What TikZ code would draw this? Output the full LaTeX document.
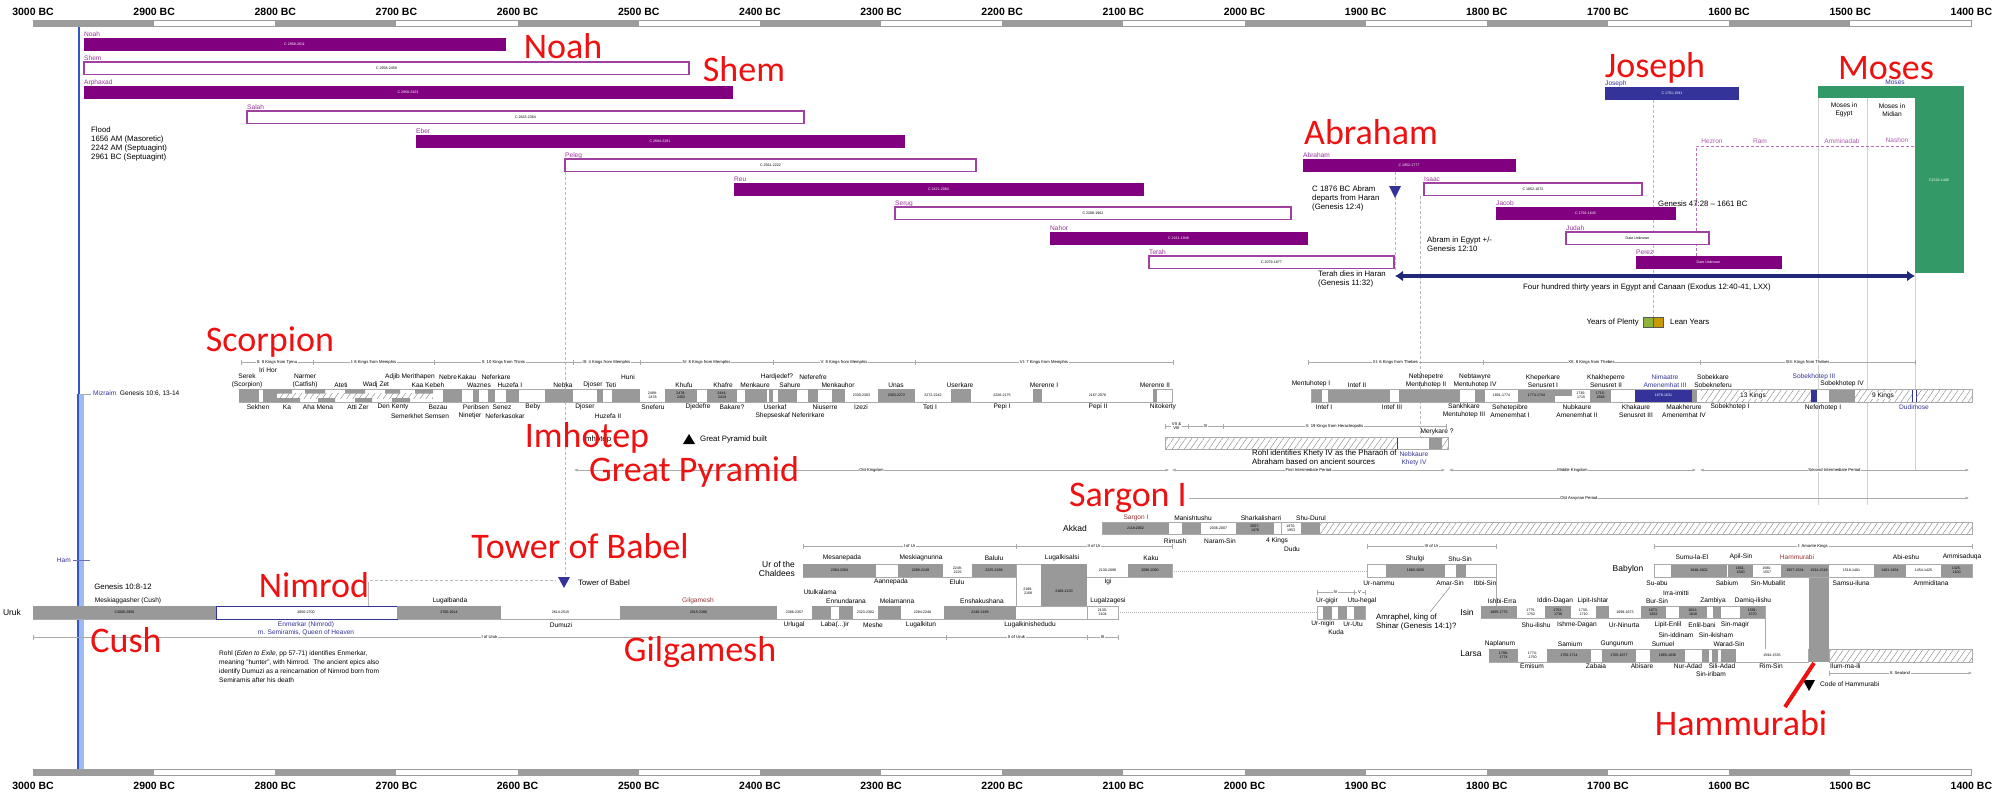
\documentclass[tikz,border=0pt]{standalone}
\usepackage{fontspec}
\setmainfont{Liberation Sans}
\newfontfamily\calib{Carlito}
\usetikzlibrary{arrows.meta,patterns.meta}
\definecolor{pur}{HTML}{800080}
\definecolor{plabel}{HTML}{993399}
\definecolor{gblk}{HTML}{999999}
\definecolor{gline}{HTML}{AAAAAA}
\definecolor{axgray}{HTML}{9C9C9C}
\definecolor{navy}{HTML}{333399}
\definecolor{mgreen}{HTML}{339966}
\definecolor{bigred}{HTML}{EE1111}
\definecolor{dred}{HTML}{993333}
\definecolor{lblue}{HTML}{9DBBF0}
\definecolor{vblue}{HTML}{3355CC}
\definecolor{arrnavy}{HTML}{20287A}
\definecolor{plenty}{HTML}{8DB33A}
\definecolor{lean}{HTML}{C99A06}
\definecolor{hatchc}{HTML}{8C8C8C}
\newcounter{nn}
\newcommand{\Tx}[4][]{\stepcounter{nn}\node[lbl,#1] (t\arabic{nn}) at (#2,#3) {#4};}
\newcommand{\BL}[3]{\stepcounter{nn}\node[big] (r\arabic{nn}) at (#1,#2) {#3};}
\newcommand{\BK}[6]{\fill[#1] (#2,#4) rectangle (#3,#5);\stepcounter{nn}\node[tiny] (b\arabic{nn}) at ({(#2+#3)/2},{(#4+#5)/2}) {#6};}
\newcommand{\EB}[4]{\BK{#1}{#2}{#3}{389}{402}{#4}}
\newcommand{\AB}[4]{\BK{#1}{#2}{#3}{522}{534}{#4}}
\newcommand{\UB}[4]{\BK{#1}{#2}{#3}{564}{577}{#4}}
\newcommand{\RB}[4]{\BK{#1}{#2}{#3}{606}{619}{#4}}
\newcommand{\IB}[4]{\BK{#1}{#2}{#3}{606}{618}{#4}}
\newcommand{\LB}[4]{\BK{#1}{#2}{#3}{649}{662}{#4}}
\newcommand{\Pat}[7]{\stepcounter{nn}\node[plbl] (p\arabic{nn}) at (#2,{#4-1.5}) {#1};
 \draw[#5] (#2,#4) rectangle (#3,{#4+12.5});
 \stepcounter{nn}\node[tiny,text=#7] (q\arabic{nn}) at ({(#2+#3)/2},{#4+6.25}) {#6};}
\newcommand{\Hd}[4]{\draw[hline] (#1,{#3-2.5}) -- (#1,{#3+2.5}) (#2,{#3-2.5}) -- (#2,{#3+2.5}) (#1,#3) -- (#2,#3);
 \stepcounter{nn}\node[hdr] (h\arabic{nn}) at ({(#1+#2)/2},#3) {#4};}
\newcommand{\Pd}[4]{\draw[hline,{Latex[length=3.5pt,width=3pt]}-{Latex[length=3.5pt,width=3pt]}] (#1,#3) -- (#2,#3);
 \stepcounter{nn}\node[hdr] (h\arabic{nn}) at ({(#1+#2)/2},#3) {#4};}
\begin{document}
\begin{tikzpicture}[x=1pt,y=-1pt,
 lbl/.style={font=\fontsize{6.6}{8}\selectfont,inner sep=0pt,align=center},
 note/.style={font=\fontsize{7.8}{9}\selectfont,inner sep=0pt,align=left},
 rowl/.style={font=\fontsize{8.5}{9.5}\selectfont,inner sep=0pt,align=right},
 tiny/.style={font=\fontsize{3.6}{4}\selectfont,inner sep=0pt,align=center},
 hdr/.style={font=\fontsize{4.2}{4.8}\selectfont,inner sep=0.8pt,fill=white,align=center},
 big/.style={font=\calib\fontsize{36}{36}\selectfont,text=bigred,inner sep=0pt,anchor=base},
 axl/.style={font=\bfseries\fontsize{10.5}{12}\selectfont,inner sep=0pt},
 plbl/.style={font=\fontsize{6.6}{7}\selectfont,inner sep=0pt,text=plabel,anchor=base west},
 hline/.style={draw=gline,line width=0.5pt},
 barbg/.style={draw=gline,fill=white,line width=0.6pt},
 hatch/.style={pattern={Lines[angle=55,distance=5pt,line width=0.45pt]},pattern color=hatchc},
 pfill/.style={fill=pur,draw=pur},
 pwht/.style={fill=white,draw=pur!75,line width=1.1pt},
 vdash/.style={draw=gray!55,line width=0.6pt,dash pattern=on 3pt off 2pt}]
\useasboundingbox (0,0) rectangle (2000,798);
\fill[white] (0,0) rectangle (2000,798);
% ---------- axes
\fill[axgray] (33,20) rectangle (1972,27);
\foreach \i in {1,3,...,13}{\fill[white] ({33+121.15*\i},21.2) rectangle ({33+121.15*(\i+1)},25.8);}
\fill[white] ({33+121.15*15},21.2) rectangle (1970.8,25.8);
\fill[axgray] (33,769) rectangle (1972,776);
\foreach \i in {1,3,...,13}{\fill[white] ({33+121.15*\i},770.2) rectangle ({33+121.15*(\i+1)},774.8);}
\fill[white] ({33+121.15*15},770.2) rectangle (1970.8,774.8);
\foreach \i in {0,...,16}{\pgfmathtruncatemacro\yv{3000-100*\i}
 \node[axl] (ta\i) at ({33+121.15*\i},12) {\yv\ BC};
 \node[axl] (ba\i) at ({33+121.15*\i},786) {\yv\ BC};}
% ---------- blue vertical line
\draw[vblue,line width=2.5pt] (79,27) -- (79,394);
\draw[lblue,line width=6pt] (80.5,394) -- (80.5,769);
\draw[vblue,line width=1.2pt] (78,394) -- (78,769);
% ---------- dashed guide lines
\draw[vdash] (565,171.5) -- (565,577);
\draw[vdash] (1395,171.5) -- (1395,270);
\draw[vdash] (1420,195.5) -- (1420,437);
\draw[vdash] (1653,99.5) -- (1653,317);
\draw[gray!35,line width=0.5pt] (1818,98) -- (1818,505) (1867,98) -- (1867,505) (1915,273) -- (1915,470);
\draw[plabel!70,line width=0.7pt,dash pattern=on 3pt off 2pt] (1696,256) -- (1696,146) -- (1941,146);
% ---------- patriarchs
\Pat{Noah}{84}{505}{38}{pfill}{C 2958-2611}{white}
\Pat{Shem}{84}{689}{62}{pwht}{C 2958-2459}{black}
\Pat{Arphaxad}{84}{732}{86}{pfill}{C 2958-2423}{white}
\Pat{Salah}{247}{804}{111}{pwht}{C 2823-2364}{black}
\Pat{Eber}{416}{904}{135}{pfill}{C 2684-2281}{white}
\Pat{Peleg}{565}{976}{159}{pwht}{C 2561-2222}{black}
\Pat{Reu}{734}{1143}{183}{pfill}{C 2421-2084}{white}
\Pat{Serug}{895}{1291}{207}{pwht}{C 2288-1962}{black}
\Pat{Nahor}{1050}{1307}{232}{pfill}{C 2161-1948}{white}
\Pat{Terah}{1149}{1394}{256}{pwht}{C 2079-1877}{black}
\Pat{Abraham}{1303}{1515}{159}{pfill}{C 1952-1777}{white}
\Pat{Isaac}{1424}{1642}{183}{pwht}{C 1852-1672}{black}
\Pat{Jacob}{1496}{1675}{207}{pfill}{C 1792-1645}{white}
\Pat{Judah}{1566}{1709}{232}{pwht}{Date Unknown}{black}
\Pat{Perez}{1636}{1781}{256}{pfill}{Date Unknown}{white}
\fill[navy] (1605,87) rectangle (1739,99.5);
\node[plbl,text=navy] (josl) at (1605,85) {Joseph};
\node[tiny,text=white] (josd) at (1672,93.2) {C 1701-1591};
% Moses
\fill[mgreen] (1818,86) rectangle (1964,98);
\fill[mgreen] (1915,86) rectangle (1964,273);
\node[lbl,text=navy,anchor=base] (mosl) at (1895,84) {Moses};
\Tx{1844}{110}{Moses in\\Egypt}
\Tx{1892}{110}{Moses in\\Midian}
\node[tiny,text=white] (mosd) at (1939,180) {C1526-1406};
\Tx[text=plabel!80]{1712}{141}{Hezron}
\Tx[text=plabel!80]{1760}{141}{Ram}
\Tx[text=plabel!80]{1842}{141}{Amminadab}
\Tx[text=plabel!80]{1897}{140}{Nashon}
% flood & notes
\node[note,anchor=north west] (flood) at (91,127) {Flood\\1656 AM (Masoretic)\\2242 AM (Septuagint)\\2961 BC (Septuagint)};
\fill[navy] (1389,186) -- (1401,186) -- (1395,198) -- cycle;
\node[note,anchor=north west] (abr1) at (1312,186) {C 1876 BC Abram\\departs from Haran\\(Genesis 12:4)};
\node[note,anchor=west] (gen47) at (1658,204) {Genesis 47:28 – 1661 BC};
\node[note,anchor=north west] (abr2) at (1427,237) {Abram in Egypt +/-\\Genesis 12:10};
\node[note,anchor=north west] (ter) at (1318,271) {Terah dies in Haran\\(Genesis 11:32)};
\coordinate (arrL) at (1395,276);
\coordinate (arrR) at (1915,276);
\draw[arrnavy,line width=3.5pt,{Latex[length=8pt,width=11pt]}-{Latex[length=8pt,width=11pt]}] (arrL) -- (arrR);
\node[note] (four) at (1647,287) {Four hundred thirty years in Egypt and Canaan (Exodus 12:40-41, LXX)};
\node[note,anchor=east] (ypl) at (1639,322) {Years of Plenty};
\draw[gray!70!black,fill=plenty,line width=0.4pt] (1643,317) rectangle (1653,327);
\draw[gray!70!black,fill=lean,line width=0.4pt] (1653,317) rectangle (1663,327);
\node[note,anchor=west] (lyr) at (1670,322) {Lean Years};
% ---------- Egypt
\draw[gline,line width=0.5pt] (81,394) -- (91,394);
\Tx[anchor=west]{93}{394}{{\color{navy}Mizraim}\ \ Genesis 10:6, 13-14}
\Hd{241}{313}{362}{0: 8 Kings from Tjenu}
\Hd{313}{434}{362}{I: 8 Kings from Memphis}
\Hd{434}{573}{362}{II: 10 Kings from Thinis}
\Hd{573}{640}{362}{III: 4 Kings from Memphis}
\Hd{640}{773}{362}{IV: 8 Kings from Memphis}
\Hd{773}{915}{362}{V: 8 Kings from Memphis}
\Hd{915}{1173}{362}{VI: 7 Kings from Memphis}
\Hd{1308}{1483}{362}{XI: 6 Kings from Thebes}
\Hd{1483}{1700}{362}{XII: 8 Kings from Thebes}
\Hd{1700}{1915}{362}{XIII: Kings from Thebes}
\draw[barbg] (239,389) rectangle (1172,402);
\EB{gblk}{239}{259}{}
\EB{gblk}{263}{277}{}
\fill[gblk] (277,389) rectangle (292,393.5) (305,389) rectangle (325,393.5) (345,389) rectangle (365,393.5) (385,389) rectangle (400,393.5) (415,389) rectangle (433,393.5);
\fill[gblk] (277,398) rectangle (300,402) (318,398) rectangle (335,402) (355,398) rectangle (372,402) (392,398) rectangle (410,402);
\path[hatch] (277,393.5) rectangle (433,398);
\EB{gblk}{443}{462}{}
\EB{gblk}{473}{479}{}
\EB{gblk}{488}{495}{}
\EB{gblk}{506}{519}{}
\EB{gblk}{545}{573}{}
\EB{gblk}{597}{603}{}
\EB{gblk}{612}{640}{}
\EB{white}{640}{665}{2499-\\2478}
\EB{gblk}{665}{697}{2478-\\2452}
\EB{gblk}{707}{737}{2444-\\2419}
\EB{gblk}{745}{767}{}
\EB{gblk}{769}{773}{}
\EB{gblk}{778}{797}{}
\EB{gblk}{808}{818}{}
\EB{gblk}{832}{845}{}
\EB{white}{845}{878}{2330-2303}
\EB{gblk}{878}{915}{2303-2272}
\EB{white}{915}{951}{2272-2242}
\EB{gblk}{951}{971}{}
\EB{white}{971}{1033}{2226-2175}
\EB{gblk}{1033}{1042}{}
\EB{white}{1042}{1153}{2167-2076}
\EB{gblk}{1153}{1157}{}
\draw[barbg] (1311,389) rectangle (1972,402);
\EB{gblk}{1311}{1322}{}
\EB{gblk}{1328}{1390}{}
\EB{gblk}{1399}{1460}{}
\EB{gblk}{1475}{1485}{}
\EB{white}{1485}{1518}{1801-1774}
\EB{gblk}{1518}{1555}{1774-1744}
\fill[gblk] (1555,389) rectangle (1572,395.5);
\EB{white}{1572}{1590}{1730-\\1715}
\EB{gblk}{1590}{1611}{1715-\\1698}
\EB{navy}{1635}{1692}{\color{white}1678-1631}
\EB{gblk}{1692}{1697}{}
\path[hatch] (1701,389) rectangle (1811,402);
\node[lbl,fill=white,inner sep=0.6pt] (k13) at (1753,395.5) {13 Kings};
\EB{navy}{1811}{1817}{}
\EB{gblk}{1829}{1855}{}
\path[hatch] (1855,389) rectangle (1912,402);
\node[lbl,fill=white,inner sep=0.6pt] (k9) at (1883,395.5) {9 Kings};
\draw[navy,line width=0.6pt] (1912,389) rectangle (1916,402);
\path[hatch] (1916,389) rectangle (1972,402);
\draw[gline,line width=0.6pt] (1311,389) rectangle (1972,402);
% Egypt labels
\Tx{247}{381}{Serek\\(Scorpion)}
\Tx{268}{370}{Iri Hor}
\Tx{305}{381}{Narmer\\(Catfish)}
\Tx{341}{385}{Ateti}
\Tx{376}{385}{Wadj Zet}
\Tx{410}{377}{Adjib Merithapen}
\Tx{428}{385}{Kaa Kebeh}
\Tx{448}{377}{Nebre}
\Tx{467}{377}{Kakau}
\Tx{496}{377}{Neferkare}
\Tx{479}{385}{Waznes}
\Tx{510}{385}{Huzefa I}
\Tx{563}{385}{Nebka}
\Tx{593}{385}{Djoser}
\Tx{611}{385}{Teti}
\Tx{628}{377}{Huni}
\Tx{684}{385}{Khufu}
\Tx{723}{385}{Khafre}
\Tx{755}{385}{Menkaure}
\Tx{777}{377}{Hardjedef?}
\Tx{790}{385}{Sahure}
\Tx{813}{377}{Neferefre}
\Tx{838}{385}{Menkauhor}
\Tx{896}{385}{Unas}
\Tx{960}{385}{Userkare}
\Tx{1044}{385}{Merenre I}
\Tx{1155}{385}{Merenre II}
\Tx{258}{407}{Sekhen}
\Tx{287}{407}{Ka}
\Tx{318}{407}{Aha Mena}
\Tx{358}{407}{Atti Zer}
\Tx{393}{407}{Den Kenty}
\Tx{420}{416}{Semerkhet Semsen}
\Tx{438}{407}{Bezau}
\Tx{476}{407}{Peribsen}
\Tx{502}{407}{Senez}
\Tx{470}{416}{Ninetjer}
\Tx{505}{416}{Neferkasokar}
\Tx{533}{407}{Beby}
\Tx{585}{407}{Djoser}
\Tx{608}{416}{Huzefa II}
\Tx{653}{407}{Sneferu}
\Tx{698}{407}{Djedefre}
\Tx{732}{407}{Bakare?}
\Tx{775}{407}{Userkaf}
\Tx{790}{416}{Shepseskaf Neferirkare}
\Tx{825}{407}{Niuserre}
\Tx{861}{407}{Izezi}
\Tx{930}{407}{Teti I}
\Tx{1002}{407}{Pepi I}
\Tx{1098}{407}{Pepi II}
\Tx{1163}{407}{Nitokerty}
\Tx{1311}{384}{Mentuhotep I}
\Tx{1357}{385}{Intef II}
\Tx{1426}{381}{Nebhepetre\\Mentuhotep II}
\Tx{1475}{381}{Nebtawyre\\Mentuhotep IV}
\Tx{1543}{381}{Kheperkare\\Senusret I}
\Tx{1606}{381}{Khakheperre\\Senusret II}
\Tx[text=navy]{1665}{381}{Nimaatre\\Amenemhat III}
\Tx{1713}{381}{Sobekkare\\Sobekneferu}
\Tx[text=navy]{1814}{377}{Sobekhotep III}
\Tx{1842}{384}{Sobekhotep IV}
\Tx{1324}{407}{Intef I}
\Tx{1392}{407}{Intef III}
\Tx{1464}{411}{Sankhkare\\Mentuhotep III}
\Tx{1510}{411}{Sehetepibre\\Amenemhat I}
\Tx{1577}{411}{Nubkaure\\Amenemhat II}
\Tx{1636}{411}{Khakaure\\Senusret III}
\Tx{1684}{411}{Maakherure\\Amenemhat IV}
\Tx{1730}{407}{Sobekhotep I}
\Tx{1823}{408}{Neferhotep I}
\Tx[text=navy]{1914}{407}{Dudimose}
% First Intermediate row
\Hd{1165}{1188}{426}{VII \&\\VIII}
\Hd{1188}{1223}{426}{IX}
\Hd{1223}{1446}{426}{X: 19 Kings from Heracleopolis}
\draw[barbg] (1165,437) rectangle (1448,449);
\path[hatch] (1165,437) rectangle (1397,449);
\draw[navy,fill=white,line width=0.6pt] (1397,437) rectangle (1429,449);
\fill[gblk] (1429,437) rectangle (1442,449);
\path[hatch] (1442,437) rectangle (1448,449);
\draw[gline,line width=0.6pt] (1165,437) rectangle (1448,449);
\Tx{1437}{432}{Merykare ?}
\node[note,anchor=north west] (rohlk) at (1252,450) {Rohl identifies Khety IV as the Pharaoh of\\Abraham based on ancient sources};
\Tx[text=navy]{1414}{459}{Nebkaure\\Khety IV}
% periods
\Pd{574}{1169}{470}{Old Kingdom}
\Pd{1172}{1445}{470}{First Intermediate Period}
\Pd{1449}{1696}{470}{Middle Kingdom}
\Pd{1700}{1969}{470}{Second Intermediate Period}
\draw[hline,-{Latex[length=3.5pt,width=3pt]}] (1189,498) -- (1969,498);
\node[hdr] (oap) at (1579,498) {Old Assyrian Period};
\Tx[font=\fontsize{7.8}{9}\selectfont]{597}{439}{Imhotep}
\fill (683,444) -- (695,444) -- (689,434) -- cycle;
\node[note,anchor=west] (gpb) at (700,439) {Great Pyramid built};
% ---------- Akkad
\Tx[rowl]{1075}{528}{Akkad}
\draw[barbg] (1102,522) rectangle (1972,534);
\AB{gblk}{1102}{1169}{2118-2062}
\AB{gblk}{1182}{1201}{}
\AB{white}{1201}{1236}{2036-2007}
\AB{gblk}{1236}{1274}{2007-\\1976}
\draw[gline,line width=0.5pt] (1281,522) rectangle (1301,534);
\node[tiny] (akd) at (1291,528) {1970-\\1953};
\AB{gblk}{1301}{1320}{}
\path[hatch] (1320,522) rectangle (1972,534);
\draw[gline,line width=0.6pt] (1102,522) rectangle (1972,534);
\Tx[text=dred]{1136}{518}{Sargon I}
\Tx{1193}{518}{Manishtushu}
\Tx{1261}{518}{Sharkalisharri}
\Tx{1311}{518}{Shu-Durul}
\Tx{1175}{541}{Rimush}
\Tx{1220}{541}{Naram-Sin}
\Tx{1277}{541}{4 Kings}
\Tx{1292}{549}{Dudu}
% ---------- Ur
\Hd{803}{1016}{546}{I of Ur}
\Hd{1016}{1172}{546}{II of Ur}
\Hd{1367}{1496}{546}{III of Ur}
\Tx[rowl,anchor=east]{795}{569}{Ur of the\\Chaldees}
\draw[barbg] (803,564) rectangle (1172,577);
\UB{gblk}{803}{876}{2364-2304}
\UB{gblk}{898}{943}{2286-2249}
\UB{white}{943}{972}{2249-\\2225}
\UB{gblk}{972}{1016}{2225-2189}
\UB{white}{1087}{1128}{2130-2096}
\UB{gblk}{1128}{1172}{2096-2060}
\draw[barbg] (1016,564) rectangle (1041,619);
\node[tiny] (lkc) at (1028,591) {2189-\\2168};
\fill[gblk] (1041,564) rectangle (1087,619);
\node[tiny] (lks) at (1064,591) {2168-2130};
\draw[gray!60,line width=0.5pt,dash pattern=on 1pt off 1pt] (1172,571) -- (1367,571);
\draw[barbg] (1367,564) rectangle (1496,577);
\UB{gblk}{1386}{1445}{1883-1835}
\UB{gblk}{1456}{1466}{}
\Tx{842}{558}{Mesanepada}
\Tx{921}{558}{Meskiagnunna}
\Tx{994}{558}{Balulu}
\Tx{1062}{558}{Lugalkisalsi}
\Tx{1151}{558}{Kaku}
\Tx{891}{582}{Aannepada}
\Tx{957}{582}{Elulu}
\Tx{1108}{582}{Igi}
\Tx{1415}{559}{Shulgi}
\Tx{1460}{559}{Shu-Sin}
\Tx{1379}{583}{Ur-nammu}
\Tx{1450}{583}{Amar-Sin}
\Tx{1485}{583}{Ibbi-Sin}
\coordinate (amA) at (1450,587);
\coordinate (amB) at (1430,612);
\draw[gray,line width=0.5pt] (amA) -- (amB);
\node[note,anchor=north west] (amr) at (1376,614) {Amraphel, king of\\Shinar (Genesis 14:1)?};
% ---------- Uruk
\Tx[rowl]{12}{612}{Uruk}
\draw[barbg] (33,606) rectangle (1118,619);
\RB{gblk}{33}{216}{C3000-2850}
\draw[navy,line width=0.8pt,fill=white] (216,606) rectangle (397,619);
\node[tiny] (enm) at (306,612.5) {2850-2700};
\RB{gblk}{397}{501}{2700-2614}
\RB{white}{501}{620}{2614-2515}
\RB{gblk}{620}{777}{2515-2386}
\RB{white}{777}{812}{2386-2357}
\RB{gblk}{812}{831}{}
\RB{gblk}{839}{853}{}
\RB{white}{853}{878}{2323-2302}
\RB{gblk}{878}{901}{}
\RB{white}{901}{944}{2284-2248}
\RB{gblk}{944}{1016}{2248-2189}
\RB{white}{1087}{1118}{2130-\\2104}
\draw[gline,line width=0.6pt] (1087,606) rectangle (1118,619);
\draw[gray!60,line width=0.5pt,dash pattern=on 1pt off 1pt] (1118,612) -- (1317,612);
\draw[barbg] (1317,606) rectangle (1365,619);
\RB{gblk}{1323}{1332}{}
\RB{gblk}{1338}{1347}{}
\RB{gblk}{1354}{1365}{}
\Hd{1317}{1354}{592}{IV}
\Hd{1354}{1365}{592}{V}
\node[note,anchor=center] (gen10) at (123,587) {Genesis 10:8-12};
\Tx{128}{601}{Meskiaggasher (Cush)}
\Tx{450}{601}{Lugalbanda}
\Tx[text=dred]{698}{601}{Gilgamesh}
\Tx{820}{592}{Utulkalama}
\Tx{846}{601}{Ennundarana}
\Tx{897}{601}{Melamanna}
\Tx{982}{601}{Enshakushana}
\Tx{1108}{601}{Lugalzagesi}
\Tx{1327}{601}{Ur-gigir}
\Tx{1362}{601}{Utu-hegal}
\Tx[text=navy]{306}{625}{Enmerkar (Nimrod)}
\Tx[text=navy]{306}{633}{m. Semiramis, Queen of Heaven}
\Tx{561}{625}{Dumuzi}
\Tx{794}{625}{Urlugal}
\Tx{835}{625}{Laba(...)ir}
\Tx{873}{625}{Meshe}
\Tx{921}{625}{Lugalkitun}
\Tx{1030}{625}{Lugalkinishedudu}
\Tx{1323}{624}{Ur-nigin}
\Tx{1353}{624}{Ur-Utu}
\Tx{1336}{632}{Kuda}
\Hd{33}{946}{637}{I of Uruk}
\Hd{946}{1087}{637}{II of Uruk}
\Hd{1087}{1118}{637}{III}
\node[font=\fontsize{6.6}{9}\selectfont,inner sep=0pt,align=left,anchor=north west] (rohl) at (219,651) {Rohl (\textit{Eden to Exile}, pp 57-71) identifies Enmerkar,\\meaning "hunter", with Nimrod.\ \ The ancient epics also\\identify Dumuzi as a reincarnation of Nimrod born from\\Semiramis after his death};
\draw[navy!70,line width=0.6pt] (73,560) -- (90,560);
\node[lbl,text=navy,anchor=east] (ham) at (71,560) {Ham};
\coordinate (nmA) at (370,580);
\coordinate (nmB) at (556,580);
\draw[vdash] (nmA) -- (nmB);
\draw[gray!55,line width=0.5pt] (368,582) -- (368,606);
\fill[navy] (558,577) -- (570,577) -- (564,588) -- cycle;
\node[note,anchor=west] (tob) at (578,583) {Tower of Babel};
% ---------- Isin
\draw[gline,line width=0.5pt] (1496,577) -- (1496,606) (1765,618) -- (1765,649);
\Tx[rowl]{1467}{612}{Isin}
\draw[barbg] (1481,606) rectangle (1765,618);
\IB{gblk}{1481}{1517}{1805-1775}
\IB{white}{1517}{1545}{1775-\\1752}
\IB{gblk}{1545}{1571}{1752-\\1730}
\IB{white}{1571}{1596}{1730-\\1710}
\IB{gblk}{1596}{1609}{}
\IB{white}{1609}{1641}{1699-1673}
\IB{gblk}{1641}{1666}{1673-\\1652}
\IB{gblk}{1679}{1707}{1641-\\1618}
\IB{gblk}{1713}{1721}{}
\IB{gblk}{1740}{1765}{1591-\\1570}
\Tx{1502}{601}{Ishbi-Erra}
\Tx{1555}{601}{Iddin-Dagan}
\Tx{1593}{601}{Lipit-Ishtar}
\Tx{1657}{601}{Bur-Sin}
\Tx{1676}{593}{Irra-imitti}
\Tx{1713}{601}{Zambiya}
\Tx{1753}{601}{Damiq-ilishu}
\Tx{1536}{625}{Shu-ilishu}
\Tx{1577}{625}{Ishme-Dagan}
\Tx{1624}{625}{Ur-Ninurta}
\Tx{1668}{625}{Lipit-Enlil}
\Tx{1702}{625}{Enlil-bani}
\Tx{1735}{625}{Sin-magir}
% ---------- Larsa
\Tx[rowl]{1471}{654}{Larsa}
\draw[barbg] (1489,649) rectangle (1808,662);
\LB{gblk}{1489}{1518}{1798-\\1774}
\LB{white}{1518}{1547}{1774-\\1750}
\LB{gblk}{1547}{1591}{1750-1714}
\LB{gblk}{1602}{1636}{1705-1677}
\LB{gblk}{1650}{1685}{1665-1636}
\LB{gblk}{1702}{1709}{}
\LB{gblk}{1712}{1718}{}
\LB{gblk}{1721}{1736}{}
\LB{white}{1736}{1808}{1594-1535}
\Tx{1500}{644}{Naplanum}
\Tx{1570}{644}{Samium}
\Tx{1617}{644}{Gungunum}
\Tx{1663}{644}{Sumuel}
\Tx{1729}{644}{Warad-Sin}
\Tx{1676}{635}{Sin-iddinam}
\Tx{1716}{635}{Sin-ikisham}
\Tx{1532}{666}{Emisum}
\Tx{1596}{666}{Zabaia}
\Tx{1642}{666}{Abisare}
\Tx{1688}{666}{Nur-Adad}
\Tx{1722}{666}{Sili-Adad}
\Tx{1711}{674}{Sin-iribam}
\Tx{1771}{666}{Rim-Sin}
\draw[gline,line width=0.6pt,hatch] (1829,649) rectangle (1972,662);
\node[lbl,anchor=west] (ilum) at (1830,666) {Ilum-ma-ili};
\draw[hline,{Bar[width=5pt]}-{Latex[length=3.5pt,width=3pt]}] (1829,673) -- (1972,673);
\node[hdr] (seal) at (1900,673) {II: Sealand};
% ---------- Babylon
\Hd{1654}{1972}{546}{I: Amorite Kings}
\Tx[rowl]{1628}{569}{Babylon}
\draw[barbg] (1654,564) rectangle (1972,577);
\UB{gblk}{1671}{1727}{1648-1602}
\UB{gblk}{1728}{1753}{1601-\\1580}
\UB{white}{1753}{1781}{1580-\\1557}
\UB{gblk}{1781}{1809}{1557-1534}
\fill[gblk] (1809,564) rectangle (1829,662);
\node[tiny] (hmd) at (1819,570.5) {1534-1518};
\UB{white}{1829}{1874}{1518-1481}
\UB{gblk}{1874}{1906}{1481-1454}
\UB{white}{1906}{1941}{1454-1425}
\UB{gblk}{1941}{1972}{1425-\\1400}
\draw[gline,line width=0.6pt] (1654,564) rectangle (1972,577);
\Tx{1692}{557}{Sumu-la-El}
\Tx{1741}{557}{Apil-Sin}
\Tx[text=dred]{1797}{557}{Hammurabi}
\Tx{1906}{557}{Abi-eshu}
\Tx{1962}{557}{Ammisaduqa}
\Tx{1657}{583}{Su-abu}
\Tx{1727}{583}{Sabium}
\Tx{1768}{583}{Sin-Muballit}
\Tx{1851}{583}{Samsu-iluna}
\Tx{1931}{583}{Ammiditana}
\fill (1803,680) -- (1815,680) -- (1809,691) -- cycle;
\node[lbl,anchor=west] (code) at (1820,684) {Code of Hammurabi};
% ---------- big red labels
\BL{563}{58}{Noah}
\BL{744}{81}{Shem}
\BL{1371}{144}{Abraham}
\BL{1655}{77}{Joseph}
\BL{1886}{79}{Moses}
\BL{270}{351}{Scorpion}
\BL{587}{447}{Imhotep}
\BL{694}{481}{Great Pyramid}
\BL{1128}{506}{Sargon I}
\BL{580}{558}{Tower of Babel}
\BL{314}{597}{Nimrod}
\BL{126}{652}{Cush}
\BL{700}{661}{Gilgamesh}
\BL{1741}{735}{Hammurabi}
\coordinate (hmA) at (1814,663);
\coordinate (hmB) at (1785,707);
\draw[bigred,line width=4pt] (hmA) -- (hmB);
\end{tikzpicture}
\end{document}
